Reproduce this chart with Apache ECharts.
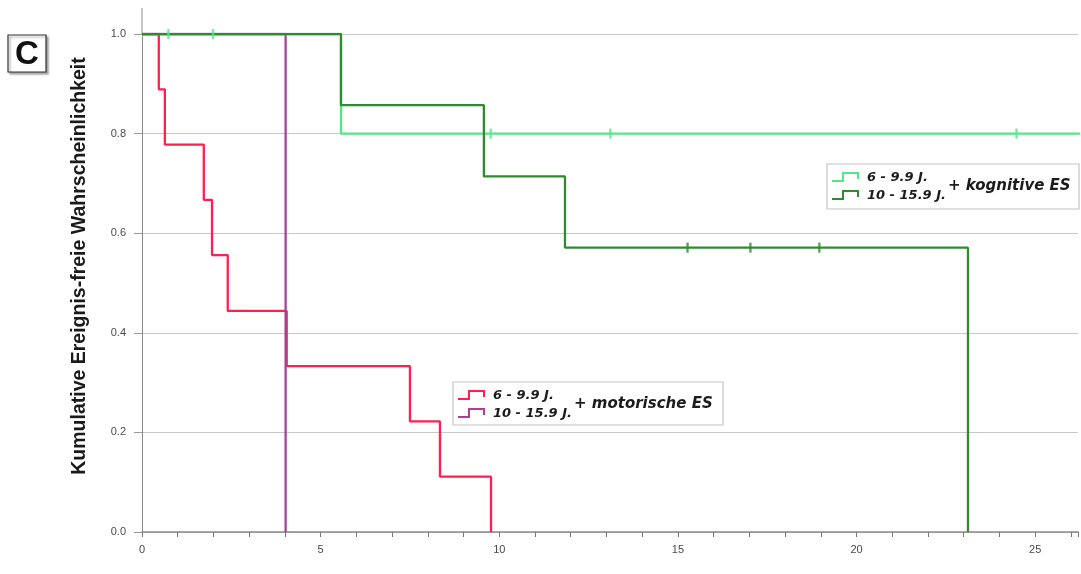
<!DOCTYPE html>
<html>
<head>
<meta charset="utf-8">
<script src="https://cdn.jsdelivr.net/npm/echarts@6/dist/echarts.min.js"></script>
<style>
  html, body { margin: 0; padding: 0; background: #fff; }
  #chart { width: 1081px; height: 574px; }
</style>
</head>
<body>
<div id="chart"></div>
<script>
// Labels
const panelLabel = 'C';
const yAxisTitle = 'Kumulative Ereignis-freie Wahrscheinlichkeit';
const groupLabels = ['6 - 9.9 J.', '10 - 15.9 J.'];
const motorTitle = '+ motorische ES';
const cognTitle = '+ kognitive ES';
const yTickValues = [0, 0.2, 0.4, 0.6, 0.8, 1.0];
const xLabelStep = 5;

// Kaplan-Meier curves: time (years) and survival after each step
const motorYoungTimes = [0, 0.47, 0.64, 1.73, 1.96, 2.40, 4.05, 7.50, 8.34, 9.77];
const motorYoungSurv  = [1, 0.889, 0.778, 0.667, 0.556, 0.444, 0.333, 0.222, 0.111, 0];
const motorOldTimes = [0, 4.02];
const motorOldSurv  = [1, 0];
const cognYoungTimes = [0, 5.57, 26.5];
const cognYoungSurv  = [1, 0.8, 0.8];
const cognOldTimes = [0, 5.57, 9.57, 11.84, 23.12];
const cognOldSurv  = [1, 0.857, 0.714, 0.571, 0];

// Censored observations
const cognYoungCensTimes = [0.74, 1.99, 9.76, 13.11, 24.48];
const cognYoungCensSurv  = [1, 1, 0.8, 0.8, 0.8];
const cognOldCensTimes = [15.27, 17.03, 18.96];
const cognOldCensSurv  = [0.571, 0.571, 0.571];

const COL = {
  motorYoung: '#ff1f50',
  motorOld: '#a8409c',
  cognYoung: '#52e888',
  cognOld: '#2f8a30'
};

const zip = (xs, ys) => xs.map((x, i) => [x, ys[i]]);

function kmSeries(name, times, surv, color, z) {
  return {
    name, type: 'line', step: 'end', symbol: 'none', z,
    data: zip(times, surv),
    lineStyle: { color, width: 2.3 },
    emphasis: { disabled: true },
    silent: true
  };
}

function censSeries(times, surv, color) {
  return {
    type: 'scatter', symbol: 'rect', symbolSize: [2.4, 10], z: 10,
    data: zip(times, surv),
    itemStyle: { color },
    silent: true
  };
}

const legendFont = {
  fontFamily: 'DejaVu Sans', fontWeight: 'bold', fontStyle: 'italic', fill: '#1c1c1c'
};

function stepIcon(x, yBottom, color) {
  return {
    type: 'polyline',
    shape: { points: [[x, yBottom], [x + 11, yBottom], [x + 11, yBottom - 8], [x + 26, yBottom - 8], [x + 26, yBottom - 2]] },
    style: { stroke: color, lineWidth: 2, fill: null }
  };
}

function legendBox(x, y, w, h, colors, title) {
  return {
    type: 'group', x, y, silent: true,
    children: [
      { type: 'rect', shape: { x: 0, y: 0, width: w, height: h },
        style: { fill: '#fff', stroke: '#c4c4c4', lineWidth: 1.2 } },
      stepIcon(5, 17, colors[0]),
      stepIcon(5, 35, colors[1]),
      { type: 'text', x: 40, y: 14, style: Object.assign({ text: groupLabels[0], fontSize: 13, verticalAlign: 'middle' }, legendFont) },
      { type: 'text', x: 40, y: 32, style: Object.assign({ text: groupLabels[1], fontSize: 13, verticalAlign: 'middle' }, legendFont) },
      { type: 'text', x: 121, y: 22, style: Object.assign({ text: title, fontSize: 15, verticalAlign: 'middle' }, legendFont) }
    ]
  };
}

const chart = echarts.init(document.getElementById('chart'), null, { renderer: 'canvas' });

chart.setOption({
  animation: false,
  backgroundColor: '#fff',
  grid: { left: 142, right: 0, top: 34, bottom: 42, containLabel: false },
  xAxis: {
    type: 'value', min: 0, max: 26.2, interval: 1,
    axisLine: { lineStyle: { color: '#8a8a8a', width: 1.5 } },
    axisTick: { length: 5, lineStyle: { color: '#777' } },
    axisLabel: {
      color: '#4a4a4a', fontSize: 11, margin: 12, fontFamily: 'Liberation Sans',
      formatter: v => (Math.abs(v % xLabelStep) < 1e-9 ? String(v) : '')
    },
    splitLine: { show: false }
  },
  yAxis: {
    type: 'value', min: 0, max: 1, interval: 0.2,
    axisLine: { show: true, lineStyle: { color: '#8a8a8a', width: 1 } },
    axisTick: { show: true, length: 8, lineStyle: { color: '#999' } },
    axisLabel: {
      color: '#4a4a4a', fontSize: 11, margin: 16, fontFamily: 'Liberation Sans',
      formatter: v => (yTickValues.some(t => Math.abs(t - v) < 1e-9) ? v.toFixed(1) : '')
    },
    splitLine: { lineStyle: { color: '#c8c8c8', width: 1 } }
  },
  series: [
    kmSeries(groupLabels[0] + ' ' + motorTitle, motorYoungTimes, motorYoungSurv, COL.motorYoung, 2),
    kmSeries(groupLabels[1] + ' ' + motorTitle, motorOldTimes, motorOldSurv, COL.motorOld, 3),
    kmSeries(groupLabels[0] + ' ' + cognTitle, cognYoungTimes, cognYoungSurv, COL.cognYoung, 4),
    kmSeries(groupLabels[1] + ' ' + cognTitle, cognOldTimes, cognOldSurv, COL.cognOld, 5),
    censSeries(cognYoungCensTimes, cognYoungCensSurv, COL.cognYoung),
    censSeries(cognOldCensTimes, cognOldCensSurv, COL.cognOld)
  ],
  graphic: [
    // axis line continues above the top tick
    { type: 'line', shape: { x1: 142, y1: 8, x2: 142, y2: 34 }, style: { stroke: '#8a8a8a', lineWidth: 1 }, silent: true },
    // panel letter
    { type: 'rect', shape: { x: 8, y: 35, width: 38, height: 37 },
      style: { fill: '#fff', stroke: '#333', lineWidth: 1.2, shadowColor: 'rgba(0,0,0,0.35)', shadowOffsetX: 2, shadowOffsetY: 2, shadowBlur: 2 }, silent: true },
    { type: 'text', x: 27, y: 55, silent: true,
      style: { text: panelLabel, fontFamily: 'Liberation Sans', fontWeight: 'bold', fontSize: 33, fill: '#111', align: 'center', verticalAlign: 'middle' } },
    // y axis title
    { type: 'text', x: 80, y: 266, rotation: Math.PI / 2, silent: true,
      style: { text: yAxisTitle, fontFamily: 'Liberation Sans', fontWeight: 'bold', fontSize: 19.5, fill: '#1a1a1a', align: 'center', verticalAlign: 'middle' } },
    legendBox(827, 164, 252, 45, [COL.cognYoung, COL.cognOld], cognTitle),
    legendBox(453, 382, 270, 43, [COL.motorYoung, COL.motorOld], motorTitle)
  ]
});
</script>
</body>
</html>
